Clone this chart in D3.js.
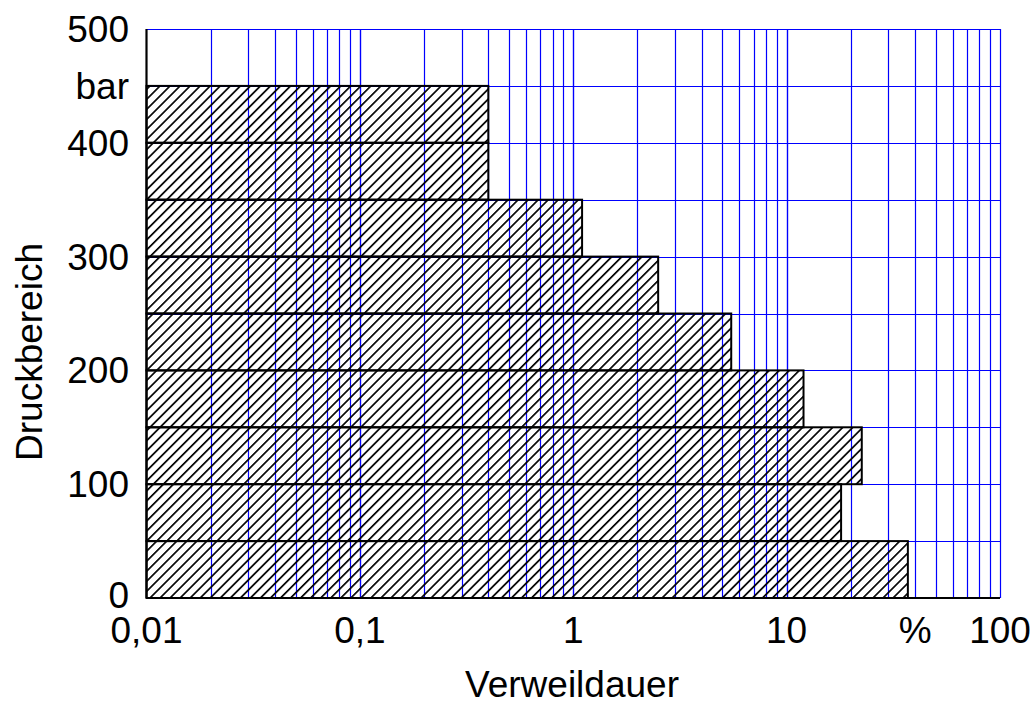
<!DOCTYPE html>
<html>
<head>
<meta charset="utf-8">
<script src="https://cdn.jsdelivr.net/npm/d3@7"></script>
<style>
  body { margin: 0; background: #fff; }
  text { font-family: "Liberation Sans", Arial, sans-serif; fill: #000; }
</style>
</head>
<body>
<div id="chart"></div>
<script>
// Data
const pressureFrom = [0, 50, 100, 150, 200, 250, 300, 350, 400]   // bar
const pressureTo   = [50, 100, 150, 200, 250, 300, 350, 400, 450]
const dwellTime    = [37, 18, 22.5, 12, 5.5, 2.5, 1.1, 0.4, 0.4]  // %

const yTicks = [0, 100, 200, 300, 400, 500]
const yUnit = 'bar'
const xTicks = [0.01, 0.1, 1, 10, 100]
const xTickLabels = ['0,01', '0,1', '1', '10', '100']
const xUnit = '%'

function draw() {
  const width = 1035, height = 704
  const svg = d3.select('#chart').append('svg')
    .attr('width', width)
    .attr('height', height)

  // Scales
  const xScale = d3.scaleLog().domain([0.01, 100]).range([146.5, 1000])
  const yScale = d3.scaleLinear().domain([0, 500]).range([598, 29])

  // hatch pattern (schraffur)
  const pat = svg.append('defs').append('pattern')
    .attr('id', 'hatch')
    .attr('patternUnits', 'userSpaceOnUse')
    .attr('width', 7.1).attr('height', 7.1)
    .attr('patternTransform', 'rotate(45)')
  pat.append('line')
    .attr('x1', 3.5).attr('x2', 3.5).attr('y1', -1).attr('y2', 9)
    .attr('stroke', '#000').attr('stroke-width', 1.7)

  // grid
  const minor = []
  for (let e = -2; e < 2; e++) {
    for (let k = 1; k <= 10; k++) {
      const v = k * Math.pow(10, e)
      if (v > 0.0100001) minor.push(+v.toPrecision(3))
    }
  }
  const grid = svg.append('g')
  grid.selectAll('line.v')
    .data(minor)
    .join('line')
    .attr('class', 'v')
    .attr('x1', d => Math.round(xScale(d)) + 0.5)
    .attr('x2', d => Math.round(xScale(d)) + 0.5)
    .attr('y1', yScale(500)).attr('y2', yScale(0))
    .attr('stroke', '#0000ff').attr('stroke-width', 1.2)
  grid.selectAll('line.h')
    .data(d3.range(50, 501, 50))
    .join('line')
    .attr('class', 'h')
    .attr('x1', xScale(0.01)).attr('x2', xScale(100))
    .attr('y1', d => Math.round(yScale(d)) + 0.5)
    .attr('y2', d => Math.round(yScale(d)) + 0.5)
    .attr('stroke', '#0000ff').attr('stroke-width', 1.2)

  // bars
  svg.append('g')
    .selectAll('rect')
    .data(dwellTime)
    .join('rect')
    .attr('x', xScale(0.01))
    .attr('y', (d, i) => yScale(pressureTo[i]))
    .attr('width', d => xScale(d) - xScale(0.01))
    .attr('height', (d, i) => yScale(pressureFrom[i]) - yScale(pressureTo[i]))
    .attr('fill', 'url(#hatch)')
    .attr('stroke', '#000')
    .attr('stroke-width', 2)

  // axes lines
  svg.append('line')
    .attr('x1', xScale(0.01)).attr('x2', xScale(0.01))
    .attr('y1', yScale(500)).attr('y2', yScale(0))
    .attr('stroke', '#000').attr('stroke-width', 2.2)
  svg.append('line')
    .attr('x1', xScale(0.01)).attr('x2', xScale(100))
    .attr('y1', yScale(0)).attr('y2', yScale(0))
    .attr('stroke', '#000').attr('stroke-width', 2.2)

  // tick labels
  const fs = 37
  svg.append('g').selectAll('text')
    .data(yTicks)
    .join('text')
    .attr('x', 129)
    .attr('y', d => Math.min(yScale(d), 595))
    .attr('dy', '0.35em')
    .attr('text-anchor', 'end')
    .attr('font-size', fs)
    .text(d => d)
  svg.append('text')
    .attr('x', 129).attr('y', yScale(450))
    .attr('dy', '0.35em')
    .attr('text-anchor', 'end')
    .attr('font-size', fs)
    .text(yUnit)

  svg.append('g').selectAll('text')
    .data(xTicks)
    .join('text')
    .attr('x', d => xScale(d))
    .attr('y', 643)
    .attr('text-anchor', 'middle')
    .attr('font-size', fs)
    .text((d, i) => xTickLabels[i])
  svg.append('text')
    .attr('x', xScale(40)).attr('y', 643)
    .attr('text-anchor', 'middle')
    .attr('font-size', fs)
    .text(xUnit)

  // axis titles
  svg.append('text')
    .attr('x', 572).attr('y', 697)
    .attr('text-anchor', 'middle')
    .attr('font-size', fs)
    .text('Verweildauer')
  svg.append('text')
    .attr('transform', 'translate(42,352) rotate(-90)')
    .attr('text-anchor', 'middle')
    .attr('font-size', fs)
    .text('Druckbereich')
}

draw()
</script>
</body>
</html>
